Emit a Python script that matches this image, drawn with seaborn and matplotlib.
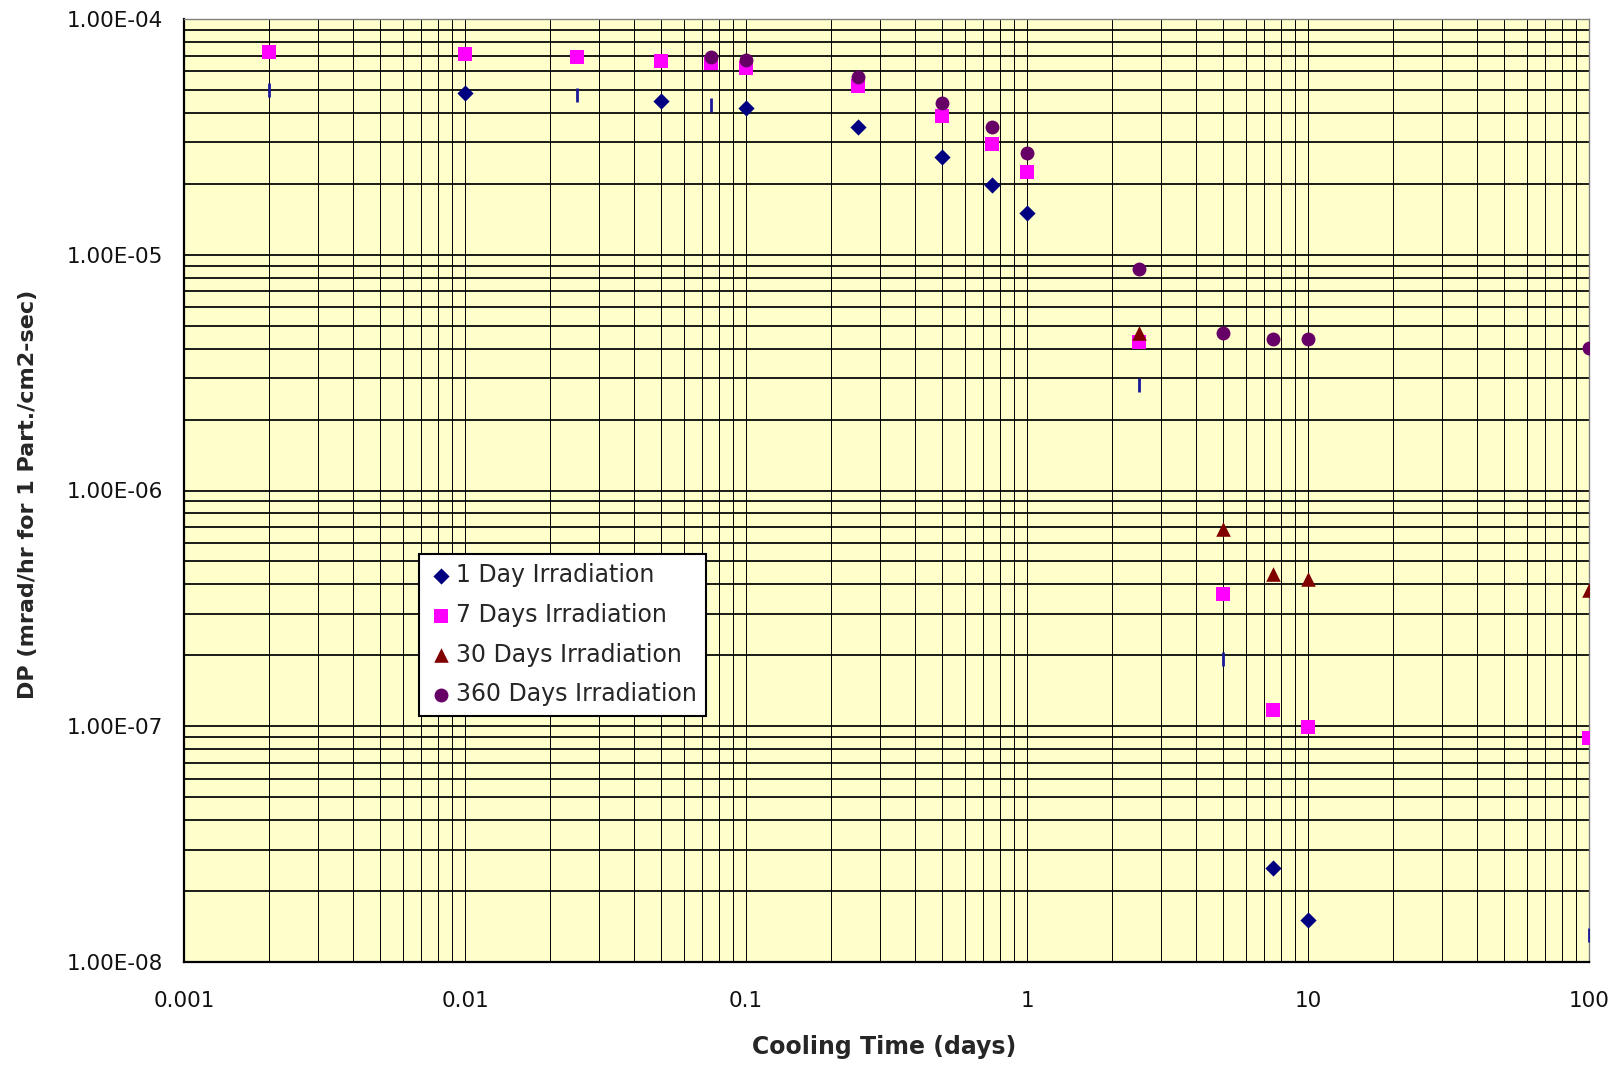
import numpy as np
import pandas as pd
import seaborn as sns
import matplotlib.pyplot as plt
from matplotlib.ticker import LogLocator, FixedLocator, FuncFormatter, NullFormatter

# cooling times (days) and dose values
x_1d = [0.01, 0.05, 0.1, 0.25, 0.5, 0.75, 1, 7.5, 10]
y_1d = [4.84e-5, 4.51e-5, 4.20e-5, 3.47e-5, 2.59e-5, 1.97e-5, 1.50e-5, 2.51e-8, 1.50e-8]
# 1 day points that only show up as thin dashes
x_1d_dash = [0.002, 0.025, 0.075, 2.5, 5, 100]
y_1d_dash = [4.99e-5, 4.74e-5, 4.33e-5, 2.81e-6, 1.92e-7, 1.30e-8]

x_7d = [0.002, 0.01, 0.025, 0.05, 0.075, 0.1, 0.25, 0.5, 0.75, 1, 2.5, 5, 7.5, 10, 100]
y_7d = [7.24e-5, 7.10e-5, 6.88e-5, 6.61e-5, 6.48e-5, 6.22e-5, 5.19e-5, 3.87e-5, 2.95e-5,
        2.25e-5, 4.26e-6, 3.63e-7, 1.17e-7, 9.97e-8, 8.93e-8]

x_30d = [2.5, 5, 7.5, 10, 100]
y_30d = [4.66e-6, 6.85e-7, 4.44e-7, 4.22e-7, 3.77e-7]

x_360d = [0.075, 0.1, 0.25, 0.5, 0.75, 1, 2.5, 5, 7.5, 10, 100]
y_360d = [6.89e-5, 6.68e-5, 5.69e-5, 4.42e-5, 3.47e-5, 2.69e-5, 8.71e-6, 4.66e-6, 4.38e-6,
          4.38e-6, 4.04e-6]

series = ["1 Day Irradiation", "7 Days Irradiation", "30 Days Irradiation", "360 Days Irradiation"]
colors = ["#000080", "#FF00FF", "#800000", "#660066"]
markers = ["D", "s", "^", "o"]
sizes = [68, 105, 110, 100]

x_ticks = [0.001, 0.01, 0.1, 1, 10, 100]
x_ticklabels = ["0.001", "0.01", "0.1", "1", "10", "100"]

df = pd.concat([
    pd.DataFrame({"t": x, "dp": y, "series": s})
    for x, y, s in zip([x_1d, x_7d, x_30d, x_360d], [y_1d, y_7d, y_30d, y_360d], series)
], ignore_index=True)
dash = pd.DataFrame({"t": x_1d_dash, "dp": y_1d_dash})

sns.set_style("white")
plt.rcParams["font.family"] = ["DejaVu Sans"]

fig = plt.figure(figsize=(16.19, 10.67), dpi=100)
ax = fig.add_axes([184 / 1619, 1 - 962 / 1067, 1405 / 1619, 943 / 1067])
ax.set_facecolor("#FFFFCC")
ax.set_xscale("log")
ax.set_yscale("log")
ax.set_xlim(0.001, 100)
ax.set_ylim(1e-8, 1e-4)

# grid: thick horizontals, thin verticals
ax.yaxis.set_major_locator(LogLocator(base=10, numticks=10))
ax.yaxis.set_minor_locator(LogLocator(base=10, subs=np.arange(2, 10), numticks=20))
ax.xaxis.set_major_locator(FixedLocator(x_ticks))
ax.xaxis.set_minor_locator(LogLocator(base=10, subs=np.arange(2, 10), numticks=20))
ax.grid(True, which="both", axis="y", color="black", linewidth=1.25)
ax.grid(True, which="both", axis="x", color="black", linewidth=0.7)
ax.set_axisbelow(True)

sns.scatterplot(data=dash, x="t", y="dp", marker="|", s=90, color="#1a1a99",
                edgecolor="#1a1a99", linewidth=2.0, legend=False, ax=ax, zorder=3)
for s, c, m, sz in zip(series, colors, markers, sizes):
    sns.scatterplot(data=df[df.series == s], x="t", y="dp", marker=m, s=sz, color=c,
                    edgecolor=c, linewidth=0, label=s, ax=ax, zorder=3)

ax.xaxis.set_ticklabels(x_ticklabels)
ax.xaxis.set_minor_formatter(NullFormatter())
ax.yaxis.set_major_formatter(FuncFormatter(lambda v, p: f"{v:.2E}"))
ax.yaxis.set_minor_formatter(NullFormatter())
ax.tick_params(axis="both", which="major", direction="out", length=7, width=1.5,
               labelsize=15.5, colors="black", labelcolor="#111111")
ax.tick_params(axis="x", which="major", pad=14)
ax.tick_params(axis="y", which="major", pad=8)
ax.tick_params(which="minor", length=0)

for side in ["left", "bottom"]:
    ax.spines[side].set_color("black")
    ax.spines[side].set_linewidth(1.6)
for side in ["top", "right"]:
    ax.spines[side].set_color("#808080")
    ax.spines[side].set_linewidth(1.0)

ax.set_xlabel("Cooling Time (days)", fontsize=17, fontweight="bold")
ax.set_ylabel("DP (mrad/hr for 1 Part./cm2-sec)", fontsize=16, fontweight="bold")
ax.xaxis.set_label_coords(0.4986, -0.0774)
ax.yaxis.set_label_coords(-0.104, 0.496)

leg = ax.legend(loc="upper left", bbox_to_anchor=(0.1673, 0.4327), borderaxespad=0,
                fontsize=17, frameon=True, fancybox=False, framealpha=1,
                edgecolor="black", handletextpad=0.05, handlelength=1.1,
                labelspacing=0.66, borderpad=0.4)
leg.get_frame().set_linewidth(1.5)

fig.savefig("out.png", dpi=100, facecolor="white")
